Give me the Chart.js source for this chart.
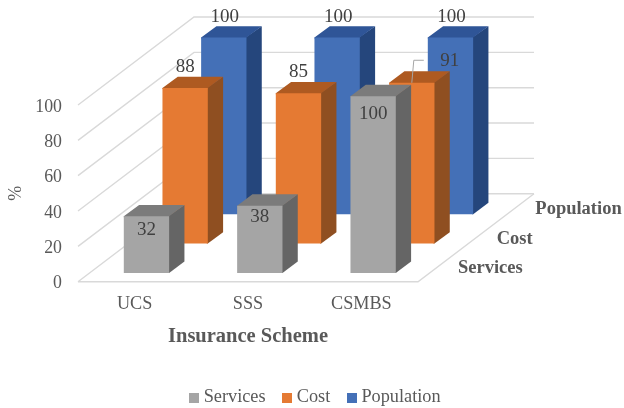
<!DOCTYPE html>
<html><head><meta charset="utf-8">
<style>html,body{margin:0;padding:0;background:#fff}canvas{display:block}</style>
<script src="https://cdn.jsdelivr.net/npm/chart.js@4/dist/chart.umd.js"></script>
</head><body><canvas id="c" width="624" height="408"></canvas>
<script>
const categories = ['UCS', 'SSS', 'CSMBS'];
const services = [32, 38, 100];
const cost = [88, 85, 91];
const population = [100, 100, 100];
const seriesNames = ['Services', 'Cost', 'Population'];
const yTicks = [0, 20, 40, 60, 80, 100];
const xTitle = 'Insurance Scheme';
const yTitle = '%';

const front = ['#A5A5A5', '#E57A33', '#4470B7'];
const topFace = ['#7B7B7B', '#AE5A21', '#2F5597'];
const sideFace = ['#656565', '#8F4F21', '#25467C'];

const SERIF = '"Liberation Serif"';
const GRID = '#D9D9D9';
const SLOT_X = 116 / 3, SLOT_Y = 88 / 3;      // one series row of the floor
const FACE_X = 15.3, FACE_Y = 11.4;           // depth of a bar
const FIRST_X = 11.8, FIRST_Y = 8.8;          // inset of the first row

const rowDX = i => FIRST_X + SLOT_X * i;
const rowDY = i => FIRST_Y + SLOT_Y * i;

function poly(ctx, pts, fill) {
  ctx.beginPath();
  pts.forEach((p, i) => i ? ctx.lineTo(p[0], p[1]) : ctx.moveTo(p[0], p[1]));
  ctx.closePath();
  ctx.fillStyle = fill;
  ctx.fill();
}

const labelPlace = {0: [[0, 13.3], [0, 11], [0, 18]], 1: [[0, -21.5], [0, -21.5], [38, -21.5]], 2: [[1, -21], [1, -21], [1, -21]]};

const plugin3d = {
  id: 'plugin3d',
  afterLayout(chart) {
    const L = chart.legend;
    L.left = 172.5; L.right = 620; L.top = 367.5; L.bottom = 408;
  },
  beforeDatasetsDraw(chart) {
    const {ctx, chartArea: a, scales: {y}} = chart;
    const bx = SLOT_X * 3, by = SLOT_Y * 3;
    ctx.save();
    ctx.strokeStyle = GRID;
    ctx.lineWidth = 1.4;
    yTicks.forEach(t => {
      const py = y.getPixelForValue(t);
      ctx.beginPath();
      ctx.moveTo(a.left, py);
      ctx.lineTo(a.left + bx, py - by);
      ctx.lineTo(a.right + bx, py - by);
      ctx.stroke();
    });
    const b = y.getPixelForValue(0);
    ctx.beginPath();
    ctx.moveTo(a.left, b);
    ctx.lineTo(a.right, b);
    ctx.lineTo(a.right + bx, b - by);
    ctx.stroke();
    ctx.restore();
  },
  beforeDatasetDraw(chart, args) {
    const {ctx} = chart, i = args.index;
    ctx.save();
    ctx.translate(rowDX(i), -rowDY(i));
    args.meta.data.forEach(el => {
      const {x, y, base, width} = el.getProps(['x', 'y', 'base', 'width'], true);
      const l = x - width / 2, r = x + width / 2;
      poly(ctx, [[r - 1, y], [r + FACE_X, y - FACE_Y], [r + FACE_X, base - FACE_Y], [r, base], [r - 1, base]], sideFace[i]);
      poly(ctx, [[l, y + 1], [l, y], [l + FACE_X, y - FACE_Y], [r + FACE_X, y - FACE_Y], [r, y], [r, y + 1]], topFace[i]);
    });
  },
  afterDatasetDraw(chart) { chart.ctx.restore(); },
  afterDatasetsDraw(chart) {
    const {ctx, chartArea: a, scales: {y}} = chart;
    ctx.save();
    ctx.textBaseline = 'middle';
    // series names along the depth axis
    ctx.font = 'bold 18.5px ' + SERIF;
    ctx.fillStyle = '#595959';
    ctx.textAlign = 'left';
    const b = y.getPixelForValue(0);
    seriesNames.forEach((n, i) => ctx.fillText(n, a.right + 40 + SLOT_X * i, b - 13.5 - SLOT_Y * i));
    // value labels
    ctx.font = '19px ' + SERIF;
    ctx.textAlign = 'center';
    ctx.fillStyle = '#404040';
    chart.data.datasets.forEach((ds, i) => {
      chart.getDatasetMeta(i).data.forEach((el, j) => {
        const [ox, oy] = labelPlace[i][j];
        const cx = el.x + rowDX(i), ty = el.y - rowDY(i);
        if (ox > 1) {
          ctx.strokeStyle = '#A6A6A6';
          ctx.lineWidth = 1;
          ctx.beginPath();
          ctx.moveTo(cx, ty);
          ctx.lineTo(cx + 2, ty - 22.5);
          ctx.lineTo(cx + 12, ty - 22.5);
          ctx.stroke();
        }
        ctx.fillText(String(ds.data[j]), cx + ox, ty + oy);
      });
    });
    ctx.restore();
  }
};

const swatches = front.map(col => {
  const s = document.createElement('canvas');
  s.width = 10; s.height = 10;
  const g = s.getContext('2d');
  g.fillStyle = col;
  g.fillRect(0, 0, 10, 10);
  return s;
});

const allSeries = [services, cost, population];

new Chart(document.getElementById('c'), {
  type: 'bar',
  data: {
    labels: categories,
    datasets: seriesNames.map((n, i) => ({
      label: n,
      data: allSeries[i],
      backgroundColor: front[i],
      clip: false
    }))
  },
  plugins: [plugin3d],
  options: {
    responsive: false,
    animation: false,
    devicePixelRatio: 1,
    datasets: {bar: {grouped: false, categoryPercentage: 1, barPercentage: 0.4}},
    layout: {padding: {top: 105, right: 206, bottom: 7, left: 0}},
    plugins: {
      tooltip: {enabled: false},
      legend: {
        position: 'bottom',
        align: 'start',
        labels: {
          usePointStyle: true,
          pointStyleWidth: 1,
          padding: 21,
          color: '#595959',
          font: {family: SERIF, size: 18.3},
          generateLabels(chart) {
            const items = Chart.defaults.plugins.legend.labels.generateLabels(chart);
            items.forEach((it, i) => { it.pointStyle = swatches[it.datasetIndex]; });
            return items;
          }
        }
      }
    },
    scales: {
      x: {
        afterFit(s) { s.height = 70; },
        grid: {display: false, drawTicks: false},
        border: {display: false},
        ticks: {color: '#595959', font: {family: SERIF, size: 18.2}, padding: 12, maxRotation: 0},
        title: {display: true, text: xTitle, color: '#595959', font: {family: SERIF, size: 20.5, weight: 'bold'}, padding: {top: 0, bottom: 3}}
      },
      y: {
        min: 0, max: 100,
        afterFit(s) { s.width = 78; },
        afterBuildTicks(s) { s.ticks = yTicks.map(v => ({value: v})); },
        grid: {display: false, drawTicks: false},
        border: {display: false},
        ticks: {color: '#595959', font: {family: SERIF, size: 17.8}, padding: 16, labelOffset: 2},
        title: {display: true, text: yTitle, color: '#595959', font: {family: SERIF, size: 18}, padding: {top: 5, bottom: 0}}
      }
    }
  }
});
</script></body></html>
